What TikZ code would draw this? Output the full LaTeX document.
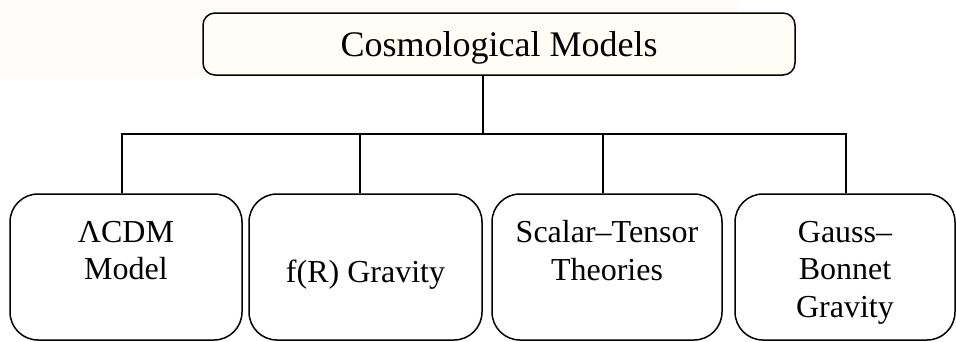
\documentclass[tikz,border=0pt]{standalone}
\usepackage{fontspec}
\setmainfont{Liberation Serif}
\definecolor{bgcream}{RGB}{253,252,248}
\definecolor{boxcream}{RGB}{255,253,246}
\begin{document}
\begin{tikzpicture}[x=1pt,y=-1pt,
  rootbox/.style={draw=black, line width=1.5pt, rounded corners=12pt, fill=boxcream, inner sep=0pt},
  childbox/.style={draw=black, line width=1.5pt, rounded corners=28pt, inner sep=0pt, minimum height=146pt},
  roottext/.style={inner sep=0pt, font=\fontsize{36}{40}\selectfont},
  childtext/.style={inner sep=0pt, align=center, font=\fontsize{32}{37.5}\selectfont},
  conn/.style={draw=black, line width=1.5pt}]
\useasboundingbox (0,0) rectangle (956,341);
\fill[bgcream] (0,0) rectangle (738,78);
% root
\node[rootbox, minimum width=592pt, minimum height=62pt] (root) at (499,44) {};
\node[roottext, anchor=base] (roott) at (499,56) {Cosmological Models};
% children
\node[childbox, minimum width=232pt] (c1) at (126,267) {};
\node[childbox, minimum width=233pt] (c2) at (365.5,267) {};
\node[childbox, minimum width=230pt] (c3) at (607,267) {};
\node[childbox, minimum width=220pt] (c4) at (845,267) {};
\node[childtext] (t1) at (126,272.5) {ΛCDM\\Model\\\vphantom{y}};
\node[childtext, anchor=base] (t2) at (365.5,282) {f(R) Gravity};
\node[childtext] (t3) at (607,272.5) {Scalar–Tensor\\Theories\\\vphantom{y}};
\node[childtext] (t4) at (845,272.5) {Gauss–\\Bonnet\\Gravity};
% connectors
\coordinate (j) at (483,134);
\coordinate (s1) at (122,134);
\coordinate (s2) at (360,134);
\coordinate (s3) at (603,134);
\coordinate (s4) at (846,134);
\draw[conn] (root.south -| j) -- (j);
\draw[conn] (s1 |- c1.north) -- (s1) -- (s4) -- (s4 |- c4.north);
\draw[conn] (s2) -- (s2 |- c2.north);
\draw[conn] (s3) -- (s3 |- c3.north);
\end{tikzpicture}
\end{document}
